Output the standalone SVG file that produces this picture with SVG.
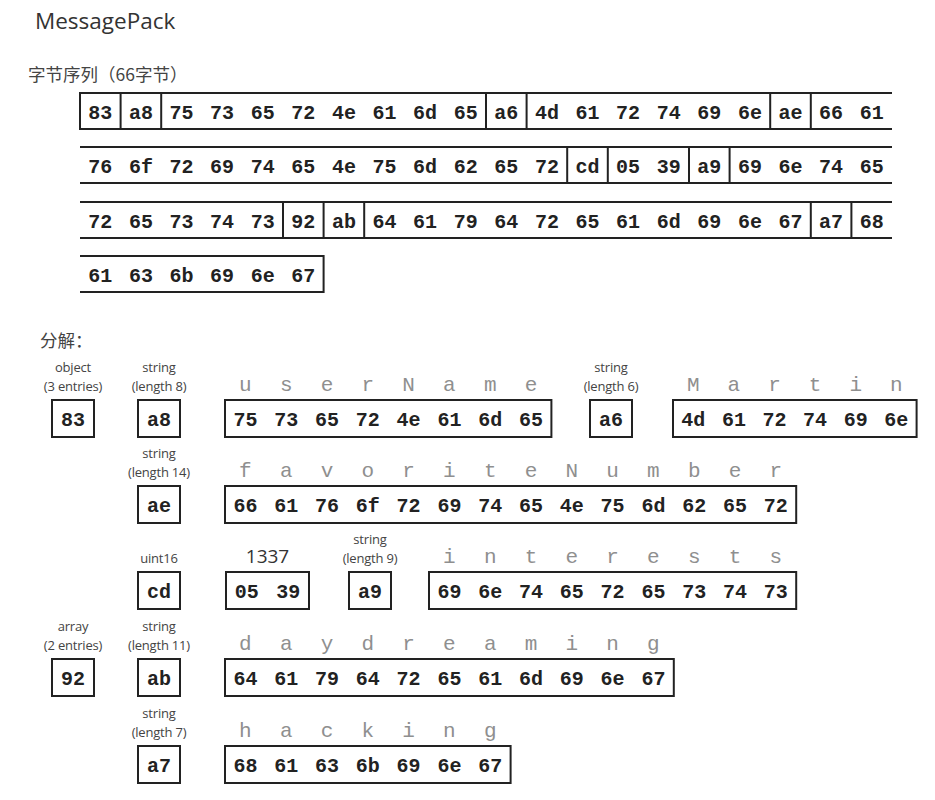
<svg xmlns="http://www.w3.org/2000/svg" width="935" height="800" viewBox="0 0 935 800">
<style>
.ttl{font-family:"Open Sans","Liberation Sans",sans-serif;font-size:22.5px;fill:#333}
.cn{font-family:"Noto Sans CJK SC","Noto Sans",sans-serif;font-size:17.5px;fill:#444}
.lb{font-family:"Open Sans","Liberation Sans",sans-serif;font-size:13px;fill:#444;text-anchor:middle;letter-spacing:-0.2px}
.num{font-family:"Open Sans","Liberation Sans",sans-serif;font-size:19px;fill:#333;text-anchor:middle}
.hx{font-family:"Liberation Mono","Courier New",monospace;font-size:20px;font-weight:bold;fill:#222;text-anchor:middle}
.ch{font-family:"Liberation Mono","Courier New",monospace;font-size:21px;fill:#8f8f8f;text-anchor:middle}
.bx{fill:none;stroke:#222;stroke-width:2}
</style>
<rect width="935" height="800" fill="#fff"/>
<text class="ttl" x="35" y="29">MessagePack</text>
<text class="cn" x="28" y="81">字节序列（66字节）</text>

<g id="row1">
<path class="bx" d="M892,93 H80 V129 H892 M120.6,93 V129 M161.2,93 V129 M486,93 V129 M526.6,93 V129 M770.2,93 V129 M810.8,93 V129"/>
<g class="hx">
<text x="100.3" y="119">83</text><text x="140.9" y="119">a8</text><text x="181.5" y="119">75</text><text x="222.1" y="119">73</text><text x="262.7" y="119">65</text><text x="303.3" y="119">72</text><text x="343.9" y="119">4e</text><text x="384.5" y="119">61</text><text x="425.1" y="119">6d</text><text x="465.7" y="119">65</text><text x="506.3" y="119">a6</text><text x="546.9" y="119">4d</text><text x="587.5" y="119">61</text><text x="628.1" y="119">72</text><text x="668.7" y="119">74</text><text x="709.3" y="119">69</text><text x="749.9" y="119">6e</text><text x="790.5" y="119">ae</text><text x="831.1" y="119">66</text><text x="871.7" y="119">61</text>
</g>
</g>

<g id="row2">
<path class="bx" d="M80,147 H892 M80,183 H892 M567.2,147 V183 M607.8,147 V183 M689,147 V183 M729.6,147 V183"/>
<g class="hx">
<text x="100.3" y="173">76</text><text x="140.9" y="173">6f</text><text x="181.5" y="173">72</text><text x="222.1" y="173">69</text><text x="262.7" y="173">74</text><text x="303.3" y="173">65</text><text x="343.9" y="173">4e</text><text x="384.5" y="173">75</text><text x="425.1" y="173">6d</text><text x="465.7" y="173">62</text><text x="506.3" y="173">65</text><text x="546.9" y="173">72</text><text x="587.5" y="173">cd</text><text x="628.1" y="173">05</text><text x="668.7" y="173">39</text><text x="709.3" y="173">a9</text><text x="749.9" y="173">69</text><text x="790.5" y="173">6e</text><text x="831.1" y="173">74</text><text x="871.7" y="173">65</text>
</g>
</g>

<g id="row3">
<path class="bx" d="M80,202 H892 M80,238 H892 M283,202 V238 M323.6,202 V238 M364.2,202 V238 M810.8,202 V238 M851.4,202 V238"/>
<g class="hx">
<text x="100.3" y="228">72</text><text x="140.9" y="228">65</text><text x="181.5" y="228">73</text><text x="222.1" y="228">74</text><text x="262.7" y="228">73</text><text x="303.3" y="228">92</text><text x="343.9" y="228">ab</text><text x="384.5" y="228">64</text><text x="425.1" y="228">61</text><text x="465.7" y="228">79</text><text x="506.3" y="228">64</text><text x="546.9" y="228">72</text><text x="587.5" y="228">65</text><text x="628.1" y="228">61</text><text x="668.7" y="228">6d</text><text x="709.3" y="228">69</text><text x="749.9" y="228">6e</text><text x="790.5" y="228">67</text><text x="831.1" y="228">a7</text><text x="871.7" y="228">68</text>
</g>
</g>

<g id="row4">
<path class="bx" d="M80,256 H323.6 V292 H80"/>
<g class="hx">
<text x="100.3" y="282">61</text><text x="140.9" y="282">63</text><text x="181.5" y="282">6b</text><text x="222.1" y="282">69</text><text x="262.7" y="282">6e</text><text x="303.3" y="282">67</text>
</g>
</g>

<text class="cn" x="40" y="347">分解：</text>

<g id="obj83">
<text class="lb" x="73" y="372">object</text><text class="lb" x="73" y="391">(3 entries)</text>
<rect class="bx" x="52" y="400" width="42" height="37"/>
<text class="hx" x="73" y="426">83</text>
</g>
<g id="str-a8">
<text class="lb" x="159" y="372">string</text><text class="lb" x="159" y="391">(length 8)</text>
<rect class="bx" x="138" y="400" width="42" height="37"/>
<text class="hx" x="159" y="426">a8</text>
</g>
<g id="userName">
<g class="ch">
<text x="245.4" y="391">u</text><text x="286.2" y="391">s</text><text x="327" y="391">e</text><text x="367.8" y="391">r</text><text x="408.6" y="391">N</text><text x="449.4" y="391">a</text><text x="490.2" y="391">m</text><text x="531" y="391">e</text>
</g>
<rect class="bx" x="225" y="400" width="326.4" height="37"/>
<g class="hx">
<text x="245.4" y="426">75</text><text x="286.2" y="426">73</text><text x="327" y="426">65</text><text x="367.8" y="426">72</text><text x="408.6" y="426">4e</text><text x="449.4" y="426">61</text><text x="490.2" y="426">6d</text><text x="531" y="426">65</text>
</g>
</g>
<g id="str-a6">
<text class="lb" x="611" y="372">string</text><text class="lb" x="611" y="391">(length 6)</text>
<rect class="bx" x="590" y="400" width="42" height="37"/>
<text class="hx" x="611" y="426">a6</text>
</g>
<g id="Martin">
<g class="ch">
<text x="693.3" y="391">M</text><text x="733.9" y="391">a</text><text x="774.5" y="391">r</text><text x="815.1" y="391">t</text><text x="855.7" y="391">i</text><text x="896.3" y="391">n</text>
</g>
<rect class="bx" x="673" y="400" width="243.6" height="37"/>
<g class="hx">
<text x="693.3" y="426">4d</text><text x="733.9" y="426">61</text><text x="774.5" y="426">72</text><text x="815.1" y="426">74</text><text x="855.7" y="426">69</text><text x="896.3" y="426">6e</text>
</g>
</g>

<g id="str-ae">
<text class="lb" x="159" y="458">string</text><text class="lb" x="159" y="477">(length 14)</text>
<rect class="bx" x="138" y="486" width="42" height="37"/>
<text class="hx" x="159" y="512">ae</text>
</g>
<g id="favoriteNumber">
<g class="ch">
<text x="245.4" y="477">f</text><text x="286.2" y="477">a</text><text x="327" y="477">v</text><text x="367.8" y="477">o</text><text x="408.6" y="477">r</text><text x="449.4" y="477">i</text><text x="490.2" y="477">t</text><text x="531" y="477">e</text><text x="571.8" y="477">N</text><text x="612.6" y="477">u</text><text x="653.4" y="477">m</text><text x="694.2" y="477">b</text><text x="735" y="477">e</text><text x="775.8" y="477">r</text>
</g>
<rect class="bx" x="225" y="486" width="571.2" height="37"/>
<g class="hx">
<text x="245.4" y="512">66</text><text x="286.2" y="512">61</text><text x="327" y="512">76</text><text x="367.8" y="512">6f</text><text x="408.6" y="512">72</text><text x="449.4" y="512">69</text><text x="490.2" y="512">74</text><text x="531" y="512">65</text><text x="571.8" y="512">4e</text><text x="612.6" y="512">75</text><text x="653.4" y="512">6d</text><text x="694.2" y="512">62</text><text x="735" y="512">65</text><text x="775.8" y="512">72</text>
</g>
</g>

<g id="uint16-cd">
<text class="lb" x="159" y="563">uint16</text>
<rect class="bx" x="138" y="572" width="42" height="37"/>
<text class="hx" x="159" y="598">cd</text>
</g>
<g id="value-1337">
<text class="num" x="267.5" y="563">1337</text>
<rect class="bx" x="226" y="572" width="83" height="37"/>
<text class="hx" x="246.8" y="598">05</text><text class="hx" x="288.2" y="598">39</text>
</g>
<g id="str-a9">
<text class="lb" x="370" y="544">string</text><text class="lb" x="370" y="563">(length 9)</text>
<rect class="bx" x="349" y="572" width="42" height="37"/>
<text class="hx" x="370" y="598">a9</text>
</g>
<g id="interests">
<g class="ch">
<text x="449.4" y="563">i</text><text x="490.2" y="563">n</text><text x="531" y="563">t</text><text x="571.8" y="563">e</text><text x="612.6" y="563">r</text><text x="653.4" y="563">e</text><text x="694.2" y="563">s</text><text x="735" y="563">t</text><text x="775.8" y="563">s</text>
</g>
<rect class="bx" x="429" y="572" width="367.2" height="37"/>
<g class="hx">
<text x="449.4" y="598">69</text><text x="490.2" y="598">6e</text><text x="531" y="598">74</text><text x="571.8" y="598">65</text><text x="612.6" y="598">72</text><text x="653.4" y="598">65</text><text x="694.2" y="598">73</text><text x="735" y="598">74</text><text x="775.8" y="598">73</text>
</g>
</g>

<g id="arr-92">
<text class="lb" x="73" y="631">array</text><text class="lb" x="73" y="650">(2 entries)</text>
<rect class="bx" x="52" y="659" width="42" height="37"/>
<text class="hx" x="73" y="685">92</text>
</g>
<g id="str-ab">
<text class="lb" x="159" y="631">string</text><text class="lb" x="159" y="650">(length 11)</text>
<rect class="bx" x="138" y="659" width="42" height="37"/>
<text class="hx" x="159" y="685">ab</text>
</g>
<g id="daydreaming">
<g class="ch">
<text x="245.4" y="650">d</text><text x="286.2" y="650">a</text><text x="327" y="650">y</text><text x="367.8" y="650">d</text><text x="408.6" y="650">r</text><text x="449.4" y="650">e</text><text x="490.2" y="650">a</text><text x="531" y="650">m</text><text x="571.8" y="650">i</text><text x="612.6" y="650">n</text><text x="653.4" y="650">g</text>
</g>
<rect class="bx" x="225" y="659" width="448.8" height="37"/>
<g class="hx">
<text x="245.4" y="685">64</text><text x="286.2" y="685">61</text><text x="327" y="685">79</text><text x="367.8" y="685">64</text><text x="408.6" y="685">72</text><text x="449.4" y="685">65</text><text x="490.2" y="685">61</text><text x="531" y="685">6d</text><text x="571.8" y="685">69</text><text x="612.6" y="685">6e</text><text x="653.4" y="685">67</text>
</g>
</g>

<g id="str-a7">
<text class="lb" x="159" y="718">string</text><text class="lb" x="159" y="737">(length 7)</text>
<rect class="bx" x="138" y="746" width="42" height="37"/>
<text class="hx" x="159" y="772">a7</text>
</g>
<g id="hacking">
<g class="ch">
<text x="245.4" y="737">h</text><text x="286.2" y="737">a</text><text x="327" y="737">c</text><text x="367.8" y="737">k</text><text x="408.6" y="737">i</text><text x="449.4" y="737">n</text><text x="490.2" y="737">g</text>
</g>
<rect class="bx" x="225" y="746" width="285.6" height="37"/>
<g class="hx">
<text x="245.4" y="772">68</text><text x="286.2" y="772">61</text><text x="327" y="772">63</text><text x="367.8" y="772">6b</text><text x="408.6" y="772">69</text><text x="449.4" y="772">6e</text><text x="490.2" y="772">67</text>
</g>
</g>
</svg>
